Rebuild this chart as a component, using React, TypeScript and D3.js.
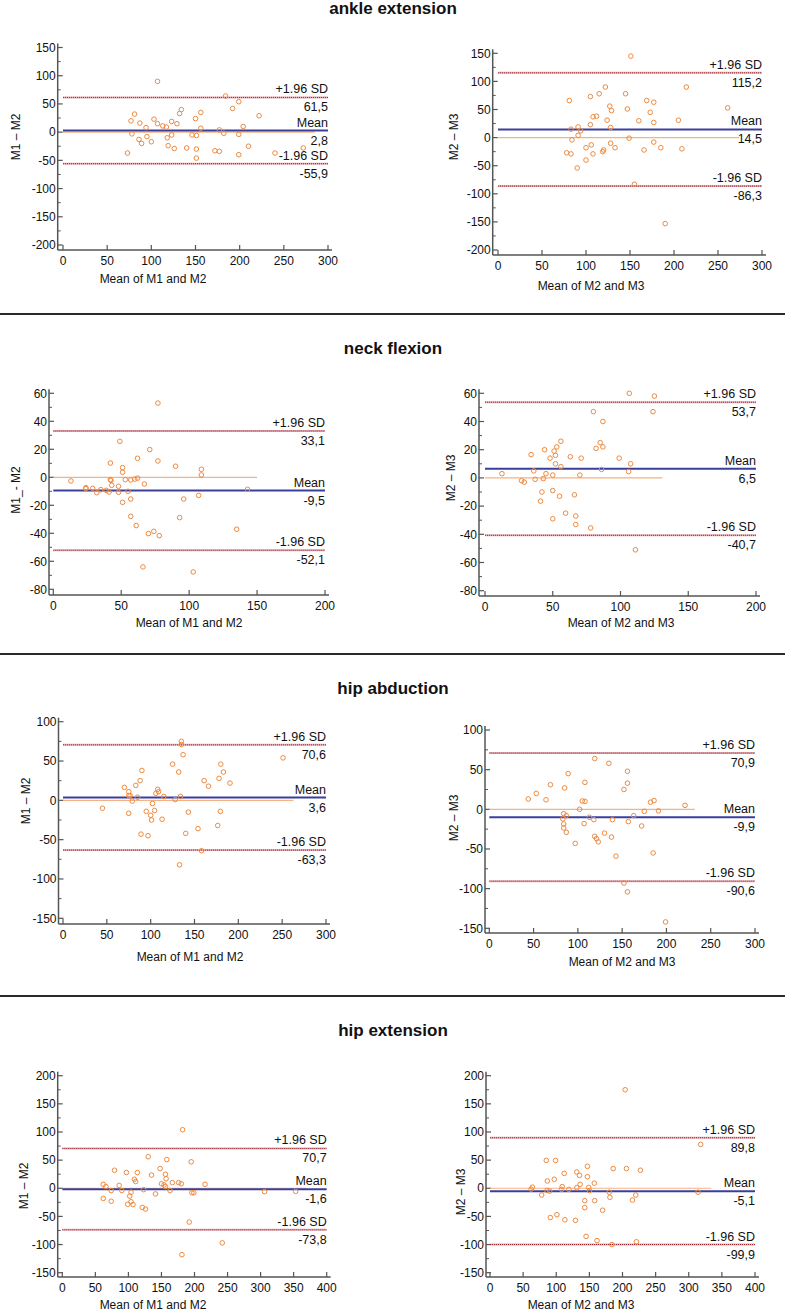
import React from "react";
import * as d3 from "d3";

// ---------- DATA ----------
const titles = ["ankle extension", "neck flexion", "hip abduction", "hip extension"];

const ankleM12: [number, number][] = [
  [107, 90], [184, 64], [199, 54], [192, 42], [222, 29], [134, 40], [132, 33], [156, 35],
  [81, 32], [77, 20], [87, 16], [103, 23], [107, 15], [123, 19], [129, 15], [113, 11],
  [117, 9], [94, 8], [150, 24], [156, 7], [177, 4], [204, 10], [182, -2], [199, -4],
  [78, -3], [95, -8], [86, -13], [89, -20], [100, -17], [118, -10], [123, -5], [146, -5],
  [151, -6], [119, -24], [126, -29], [140, -28], [151, -30], [151, -46], [172, -33],
  [177, -34], [210, -25], [199, -40], [240, -37], [272, -28], [73, -37],
];
const ankleM23: [number, number][] = [
  [151, 145], [214, 90], [122, 90], [115, 78], [145, 78], [105, 73], [81, 66], [169, 66],
  [177, 63], [261, 53], [127, 56], [129, 48], [147, 51], [173, 45], [108, 37], [112, 38],
  [124, 31], [160, 30], [177, 27], [205, 31], [105, 23], [91, 19], [128, 18], [83, 15],
  [94, 12], [91, 4], [149, -1], [84, -4], [128, -10], [177, -8], [106, -13], [100, -18],
  [133, -18], [185, -18], [209, -20], [166, -22], [120, -22], [119, -25], [78, -27],
  [83, -29], [108, -29], [100, -40], [90, -54], [155, -83], [190, -153],
];
const neckM12: [number, number][] = [
  [77, 53], [49, 25.7], [71, 19.8], [62, 13.6], [77, 11.7], [42, 10.2], [90, 7.9], [51, 6.9],
  [109, 5.7], [51, 3.6], [109, 1.7], [13, -2.6], [42, -1.7], [42.5, -2.2], [53, -1.7],
  [57, -1.9], [60, -1.3], [62, -0.6], [67, -4.8], [43, -5.7], [48, -6.4], [24, -7.4],
  [24, -8.1], [29, -7.9], [35, -8.8], [32, -11], [39, -9.3], [41, -10.5], [48, -10.7],
  [55, -10], [143, -8.6], [107, -12.9], [51, -17.9], [57, -15.5], [96, -15.5], [57, -27.9],
  [93, -28.8], [61, -34.5], [135, -37.1], [74, -38.6], [70, -40.2], [78, -41.7], [66, -64],
  [103, -67.6],
];
const neckM23: [number, number][] = [
  [106.5, 60], [125, 58], [80, 47], [124, 47], [87, 40], [56, 26], [85, 25], [44, 20],
  [82, 21], [87, 22], [53, 22], [51, 19], [34, 16.5], [52, 16], [48, 14], [63, 15],
  [71, 14], [99, 14], [52, 10], [107.5, 10], [56, 8], [86, 6], [106, 4.5], [36, 5],
  [12.5, 3], [45, 3], [50, 2], [70, 2], [37, -1], [43, -0.5], [27, -2], [29, -3],
  [42, -10], [50, -9], [55, -13], [66, -12], [41, -16.5], [59.5, -25], [67, -27],
  [50, -29], [67, -33], [78, -35.5], [111, -51],
];
const hipAbdM12: [number, number][] = [
  [135, 75], [135, 71], [137, 58], [251, 54], [125, 46], [180, 46], [90, 38], [132, 36],
  [183, 36], [178, 28], [161, 25], [88, 25], [190.5, 22], [83, 19], [166, 18], [70, 16.5],
  [108, 14], [75, 11], [109, 11], [106, 9], [75, 6], [76.5, 6], [85, 4], [115, 5],
  [134, 5], [128, 1], [79, -1], [102, -4], [45, -10], [104.5, -13], [95, -14], [143, -15],
  [179.5, -14], [75, -16.5], [100, -19], [101, -25], [113, -24], [176.5, -32], [154, -36],
  [140, -42], [89, -43], [97, -45], [158, -64], [133, -82],
];
const hipAbdM23: [number, number][] = [
  [119, 64], [135, 58], [156, 48], [89, 45], [108, 34], [156, 33], [69, 31], [85, 27],
  [152, 25], [53, 20], [44, 13], [64, 12], [105, 10.5], [108, 10], [186, 11], [182, 9],
  [221, 5], [102, 0], [175, -2.5], [191, -2], [84, -5.5], [87, -8], [163, -8], [113, -10],
  [83, -12], [118, -13], [139, -13], [157, -15.5], [107, -18], [84, -18.5], [172, -21],
  [84, -23.5], [87, -29], [130, -30], [119, -34], [138, -35], [121, -37], [123, -41],
  [97, -43], [143, -59], [185, -55], [152, -93], [156, -104], [199, -142],
];
const hipExtM12: [number, number][] = [
  [182, 104], [130, 56], [158, 51], [195, 47], [148, 35], [79, 32], [97, 28], [113.5, 28],
  [135, 23.5], [156, 25], [157, 17], [109, 16], [111, 12], [166.5, 10], [176, 10], [180, 8],
  [150, 8], [154, 6], [216, 7], [62, 7], [86, 5], [66, 3], [156, 3], [74, -4], [90, -4],
  [123, -2.5], [163, -4], [104, -7], [141, -10], [196, -8], [199, -8], [306, -6],
  [353, -5.5], [102, -14], [62, -18], [74, -23], [104, -24], [99, -28.5], [107, -29],
  [121, -34], [126, -37], [192, -60], [242, -97], [181, -118],
];
const hipExtM23: [number, number][] = [
  [204, 175], [318, 78], [85, 49.5], [99, 49.5], [147, 39], [186, 35], [206, 35], [227, 32],
  [131, 29], [112, 26.5], [135, 23], [147, 20.5], [97, 16], [86.5, 13], [157.5, 9], [136, 7],
  [64, 2], [109, 3], [131, 1], [149, 1.5], [62, -1.5], [108, -2], [119, -2], [150, -4],
  [86, -4], [90, -5], [180, -7], [314, -7], [78, -12], [220, -12], [181, -16], [143, -22],
  [158, -22], [215, -21], [143, -34.5], [170, -39], [101, -47], [91, -52], [113, -56],
  [129, -57], [145, -85.5], [161.5, -93], [221, -95], [184, -100],
];

// statistics: upper limit, mean, lower limit
const upperSD = [61.5, 115.2, 33.1, 53.7, 70.6, 70.9, 70.7, 89.8];
const meanDiff = [2.8, 14.5, -9.5, 6.5, 3.6, -9.9, -1.6, -5.1];
const lowerSD = [-55.9, -86.3, -52.1, -40.7, -63.3, -90.6, -73.8, -99.9];
const zeroLineEnd = [285, 274, 150, 131, 263, 232, 370, 334];

const yLabels = ["M1 \u2013 M2", "M2 \u2013 M3", "M1_- M2", "M2 \u2013 M3", "M1 \u2013 M2", "M2 \u2013 M3", "M1 \u2013 M2", "M2 \u2013 M3"];
const xLabels = ["Mean of M1 and M2", "Mean of M2 and M3", "Mean of M1 and M2", "Mean of M2 and M3", "Mean of M1 and M2", "Mean of M2 and M3", "Mean of M1 and M2", "Mean of M2 and M3"];

const ankleYTicks = [-200, -150, -100, -50, 0, 50, 100, 150];
const ankleXTicks = [0, 50, 100, 150, 200, 250, 300];
const neckYTicks = [-80, -60, -40, -20, 0, 20, 40, 60];
const neckXTicks = [0, 50, 100, 150, 200];
const hipAbdYTicks = [-150, -100, -50, 0, 50, 100];
const hipAbdXTicks = [0, 50, 100, 150, 200, 250, 300];
const hipExtYTicks = [-150, -100, -50, 0, 50, 100, 150, 200];
const hipExtXTicks = [0, 50, 100, 150, 200, 250, 300, 350, 400];

const panelData = [ankleM12, ankleM23, neckM12, neckM23, hipAbdM12, hipAbdM23, hipExtM12, hipExtM23];
const panelYTicks = [ankleYTicks, ankleYTicks, neckYTicks, neckYTicks, hipAbdYTicks, hipAbdYTicks, hipExtYTicks, hipExtYTicks];
const panelXTicks = [ankleXTicks, ankleXTicks, neckXTicks, neckXTicks, hipAbdXTicks, hipAbdXTicks, hipExtXTicks, hipExtXTicks];

// ---------- LAYOUT ----------
type Layout = {
  axX: number; x0: number; x1: number; yTop: number; yBot: number; axY: number;
  yLabX: number; yLabY: number; xLabX: number; xLabY: number;
};
const layouts: Layout[] = [
  { axX: 57.7, x0: 63, x1: 328, yTop: 47.5, yBot: 245, axY: 250, yLabX: 15, yLabY: 137, xLabX: 153, xLabY: 278 },
  { axX: 492.7, x0: 498, x1: 762, yTop: 53.3, yBot: 250, axY: 255, yLabX: 453, yLabY: 137, xLabX: 591, xLabY: 285 },
  { axX: 49, x0: 53.3, x1: 325, yTop: 393.3, yBot: 589.3, axY: 595, yLabX: 15, yLabY: 490, xLabX: 189, xLabY: 622 },
  { axX: 479, x0: 485, x1: 756, yTop: 393.3, yBot: 590.7, axY: 596, yLabX: 450, yLabY: 478, xLabX: 621, xLabY: 622 },
  { axX: 58.5, x0: 63, x1: 326, yTop: 721.7, yBot: 918.3, axY: 924, yLabX: 25, yLabY: 801, xLabX: 190, xLabY: 956 },
  { axX: 485, x0: 489.3, x1: 755, yTop: 730, yBot: 928.3, axY: 933, yLabX: 453, yLabY: 818, xLabX: 622, xLabY: 961 },
  { axX: 57.7, x0: 62.3, x1: 326.7, yTop: 1075.7, yBot: 1272.7, axY: 1277, yLabX: 23, yLabY: 1186, xLabX: 153, xLabY: 1304.5 },
  { axX: 486, x0: 490, x1: 755, yTop: 1075.7, yBot: 1272.7, axY: 1277, yLabX: 460, yLabY: 1192, xLabX: 581, xLabY: 1304.5 },
];
const titleY = [8, 348, 688, 1030];
const separatorsY = [314, 654, 996];

const FONT = "'Liberation Sans', Arial, Helvetica, sans-serif";
const AXIS = "#555";
const fmt = (v: number) => v.toFixed(1).replace(".", ",");

function Panel({ i }: { i: number }) {
  const L = layouts[i];
  const yt = panelYTicks[i];
  const xt = panelXTicks[i];
  const x = d3.scaleLinear().domain([xt[0], xt[xt.length - 1]]).range([L.x0, L.x1]);
  const y = d3.scaleLinear().domain([yt[0], yt[yt.length - 1]]).range([L.yBot, L.yTop]);
  const xMax = xt[xt.length - 1];
  const minor = yt.slice(0, -1).map((v, k) => (v + yt[k + 1]) / 2);
  const pts = panelData[i];
  const lineX0 = x(0);
  const lineX1 = x(xMax);
  const sdLine = (v: number) => (
    <g>
      <line x1={lineX0} x2={lineX1} y1={y(v)} y2={y(v)} stroke="#e2a9b0" strokeWidth={2} />
      <line x1={lineX0} x2={lineX1} y1={y(v)} y2={y(v)} stroke="#9c2a30" strokeWidth={1} strokeDasharray="1,1" />
    </g>
  );
  return (
    <g fontFamily={FONT} fill="#111">
      {/* axes */}
      <line x1={L.axX} x2={L.axX} y1={L.yTop - 4} y2={L.axY} stroke={AXIS} strokeWidth={1.5} />
      <line x1={L.axX} x2={L.x1 + 4} y1={L.axY} y2={L.axY} stroke={AXIS} strokeWidth={1.5} />
      {yt.map((v) => (
        <g key={"y" + v}>
          <line x1={L.axX} x2={L.axX + 5} y1={y(v)} y2={y(v)} stroke={AXIS} strokeWidth={1.2} />
          <text x={L.axX - 2} y={y(v)} dy="0.35em" textAnchor="end" fontSize={12}>{String(v)}</text>
        </g>
      ))}
      {minor.map((v) => (
        <line key={"m" + v} x1={L.axX} x2={L.axX + 3} y1={y(v)} y2={y(v)} stroke={AXIS} strokeWidth={1} />
      ))}
      {xt.map((v) => (
        <g key={"x" + v}>
          <line x1={x(v)} x2={x(v)} y1={L.axY} y2={L.axY - 5} stroke={AXIS} strokeWidth={1.2} />
          <text x={x(v)} y={L.axY + 14.5} textAnchor="middle" fontSize={12}>{String(v)}</text>
        </g>
      ))}
      <text x={L.xLabX} y={L.xLabY + 4.5} textAnchor="middle" fontSize={12}>{xLabels[i]}</text>
      <text transform={`translate(${L.yLabX + 4.5},${L.yLabY}) rotate(-90)`} textAnchor="middle" fontSize={12}>{yLabels[i]}</text>

      {/* reference lines */}
      <line x1={x(0)} x2={x(zeroLineEnd[i])} y1={y(0)} y2={y(0)} stroke="#f6b282" strokeWidth={1.2} />
      {sdLine(upperSD[i])}
      {sdLine(lowerSD[i])}
      <line x1={lineX0} x2={lineX1} y1={y(meanDiff[i])} y2={y(meanDiff[i])} stroke="#3b3f9c" strokeWidth={2} />

      {/* points */}
      {pts.map((p, k) => (
        <circle key={k} cx={x(p[0])} cy={y(p[1])} r={2.3} fill="none" stroke="#ef8a3e" strokeWidth={1} />
      ))}

      {/* labels */}
      <g fontSize={12.5} textAnchor="end">
        <text x={lineX1} y={y(upperSD[i]) - 4}>+1.96 SD</text>
        <text x={lineX1} y={y(upperSD[i]) + 14}>{fmt(upperSD[i])}</text>
        <text x={lineX1} y={y(meanDiff[i]) - 4}>Mean</text>
        <text x={lineX1} y={y(meanDiff[i]) + 14}>{fmt(meanDiff[i])}</text>
        <text x={lineX1} y={y(lowerSD[i]) - 4}>-1.96 SD</text>
        <text x={lineX1} y={y(lowerSD[i]) + 14}>{fmt(lowerSD[i])}</text>
      </g>
    </g>
  );
}

export default function App() {
  return (
    <svg width={785} height={1312} style={{ position: "absolute", left: 0, top: 0, background: "#fff" }}>
      <rect width={785} height={1312} fill="#fff" />
      {titles.map((t, k) => (
        <text key={t} x={393} y={titleY[k]} dy="0.36em" textAnchor="middle" fontFamily={FONT} fontWeight="bold" fontSize={17} fill="#111">{t}</text>
      ))}
      {separatorsY.map((s) => (
        <line key={s} x1={0} x2={785} y1={s} y2={s} stroke="#2a2a2a" strokeWidth={2} />
      ))}
      {layouts.map((_, i) => <Panel key={i} i={i} />)}
    </svg>
  );
}
